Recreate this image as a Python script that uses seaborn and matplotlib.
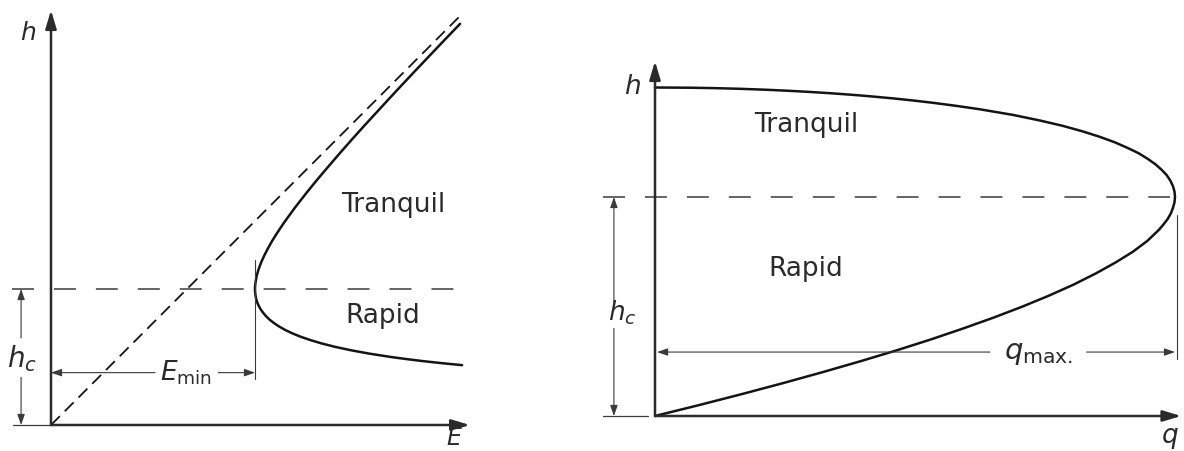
import matplotlib
matplotlib.use("Agg")
import matplotlib.pyplot as plt
import seaborn as sns
import pandas as pd

# ---- specific energy curve, E versus depth h (depth in units of h_c) ----
energy_upper = [1.500, 1.5001, 1.5006, 1.504, 1.513, 1.528, 1.547, 1.570, 1.596,
                1.624, 1.655, 1.688, 1.722, 1.795, 1.873, 1.954, 2.039, 2.125,
                2.213, 2.303, 2.395, 2.487, 2.580, 2.674, 2.769, 2.864, 2.960, 3.008]
depth_upper = [1.00, 1.01, 1.02, 1.05, 1.10, 1.15, 1.20, 1.25, 1.30,
               1.35, 1.40, 1.45, 1.50, 1.60, 1.70, 1.80, 1.90, 2.00,
               2.10, 2.20, 2.30, 2.40, 2.50, 2.60, 2.70, 2.80, 2.90, 2.95]
energy_lower = [1.5002, 1.5006, 1.504, 1.509, 1.517, 1.528, 1.542, 1.560, 1.581,
                1.607, 1.639, 1.676, 1.720, 1.772, 1.833, 1.905, 1.989, 2.087,
                2.203, 2.339, 2.500, 2.611, 2.733, 2.870, 3.023]
depth_lower = [0.99, 0.98, 0.95, 0.925, 0.90, 0.875, 0.85, 0.825, 0.80,
               0.775, 0.75, 0.725, 0.70, 0.675, 0.65, 0.625, 0.60, 0.575,
               0.55, 0.525, 0.50, 0.485, 0.47, 0.455, 0.44]
asymptote_E = [0.0, 3.03]
asymptote_h = [0.0, 3.03]
h_crit = 1.0
e_min = 1.5

# ---- discharge curve, q / q_max versus depth h at constant energy ----
discharge = [0.0, 0.085, 0.167, 0.246, 0.322, 0.395, 0.465, 0.531, 0.593, 0.652,
             0.707, 0.758, 0.805, 0.847, 0.885, 0.919, 0.947, 0.969, 0.978, 0.986,
             0.992, 0.996, 0.999, 1.000, 0.999, 0.996, 0.991, 0.984, 0.974, 0.962,
             0.947, 0.930, 0.908, 0.884, 0.855, 0.822, 0.784, 0.739, 0.688, 0.626,
             0.583, 0.535, 0.499, 0.459, 0.413, 0.388, 0.360, 0.330, 0.296, 0.257,
             0.211, 0.164, 0.116, 0.067, 0.0]
depth_q = [0.0, 0.05, 0.10, 0.15, 0.20, 0.25, 0.30, 0.35, 0.40, 0.45,
           0.50, 0.55, 0.60, 0.65, 0.70, 0.75, 0.80, 0.85, 0.875, 0.90,
           0.925, 0.95, 0.975, 1.00, 1.025, 1.05, 1.075, 1.10, 1.125, 1.15,
           1.175, 1.20, 1.225, 1.25, 1.275, 1.30, 1.325, 1.35, 1.375, 1.40,
           1.415, 1.43, 1.44, 1.45, 1.46, 1.465, 1.47, 1.475, 1.48, 1.485,
           1.49, 1.494, 1.497, 1.499, 1.50]
q_max = 1.0

W, H, DPI = 1184, 451, 100
sns.set_theme(style="white")
plt.rcParams["mathtext.fontset"] = "dejavusans"
plt.rcParams["font.family"] = ["DejaVu Sans"]
plt.rcParams["lines.scale_dashes"] = False

INK = "#141414"
AXC = "#2b2b2b"
DIM = "#3a3a3a"
TXT = "#2a2a2a"

fig = plt.figure(figsize=(W / DPI, H / DPI), dpi=DPI, facecolor="white")


def panel(ox, oy, sx, sy, xlim, ylim):
    """Axes whose data origin sits at pixel (ox, oy) with sx, sy px per unit."""
    l = ox + xlim[0] * sx
    r = ox + xlim[1] * sx
    t = oy - ylim[1] * sy
    b = oy - ylim[0] * sy
    ax = fig.add_axes([l / W, (H - b) / H, (r - l) / W, (b - t) / H])
    ax.set_xlim(*xlim)
    ax.set_ylim(*ylim)
    ax.set_axis_off()
    return ax


def arrow(ax, start, tip, lw=0.8, color=DIM, scale=8, hl=0.8, hw=0.28):
    ax.annotate("", xy=tip, xytext=start,
                arrowprops=dict(arrowstyle=f"-|>,head_length={hl},head_width={hw}",
                                lw=lw, color=color, shrinkA=0, shrinkB=0,
                                mutation_scale=scale),
                annotation_clip=False)


def axis_arrow(ax, start, tip):
    arrow(ax, start, tip, lw=1.8, color=AXC, scale=11, hl=1.0, hw=0.3)


# ================= left panel: specific energy =================
axL = panel(51, 425, 136, 136, (-0.36, 3.2), (-0.19, 3.1))

curve_L = pd.DataFrame({
    "E": energy_lower[::-1] + energy_upper,
    "h": depth_lower[::-1] + depth_upper,
})
sns.lineplot(data=curve_L, x="E", y="h", sort=False, estimator=None,
             color=INK, lw=1.8, ax=axL)
sns.lineplot(x=asymptote_E, y=asymptote_h, sort=False, estimator=None,
             color=INK, lw=1.3, dashes=False, ax=axL,
             linestyle=(0, (9.0, 5.0)))
axL.plot([-0.29, 3.03], [h_crit, h_crit], color=DIM, lw=1.1,
         linestyle=(0, (15.8, 14.4)), clip_on=False)

axis_arrow(axL, (0, 0), (0, 3.05))
axis_arrow(axL, (0, 0), (3.08, 0))
axL.plot([-0.28, 0], [0, 0], color=DIM, lw=0.9, clip_on=False)

# h_c dimension
arrow(axL, (-0.22, 0.64), (-0.22, h_crit))
arrow(axL, (-0.22, 0.35), (-0.22, 0.0))
axL.text(-0.21, 0.49, "$h_c$", fontsize=20, color=TXT, ha="center", va="center")

# E_min dimension
arrow(axL, (0.765, 0.385), (0.0, 0.385))
arrow(axL, (1.23, 0.385), (e_min, 0.385))
axL.plot([e_min, e_min], [0.34, 1.21], color=DIM, lw=0.8)
axL.text(0.995, 0.33, r"$E_{\mathrm{min}}$", fontsize=19, color=TXT,
         ha="center", va="baseline")

axL.text(-0.17, 2.88, "$h$", fontsize=18, color=TXT, ha="center", va="center")
axL.text(2.97, -0.095, "$E$", fontsize=17, color=TXT, ha="center", va="center",
         clip_on=False)
axL.text(2.52, 1.62, "Tranquil", fontsize=19, color=TXT, ha="center", va="center")
axL.text(2.44, 0.80, "Rapid", fontsize=19, color=TXT, ha="center", va="center")

# ================= right panel: discharge =================
axR = panel(655, 416, 520, 219, (-0.12, 1.015), (-0.15, 1.85))

curve_R = pd.DataFrame({"q": discharge, "h": depth_q})
sns.lineplot(data=curve_R, x="q", y="h", sort=False, estimator=None,
             color=INK, lw=1.8, ax=axR)
axR.plot([-0.10, 0.99], [h_crit, h_crit], color=DIM, lw=1.1,
         linestyle=(0, (15.8, 14.4)), clip_on=False)

axis_arrow(axR, (0, 0), (0, 1.62))
axis_arrow(axR, (0, 0), (1.012, 0))
axR.plot([-0.10, -0.013], [0, 0], color=DIM, lw=0.9)

# h_c dimension
arrow(axR, (-0.079, 0.516), (-0.079, h_crit))
arrow(axR, (-0.079, 0.40), (-0.079, 0.0))
axR.text(-0.062, 0.47, "$h_c$", fontsize=19, color=TXT, ha="center", va="center")

# q_max dimension
arrow(axR, (0.644, 0.292), (0.004, 0.292))
arrow(axR, (0.83, 0.292), (q_max, 0.292))
axR.plot([q_max + 0.003, q_max + 0.003], [0.26, 0.92], color=DIM, lw=0.8)
axR.text(0.738, 0.262, r"$q_{\mathrm{max.}}$", fontsize=21, color=TXT,
         ha="center", va="baseline")

axR.text(-0.044, 1.50, "$h$", fontsize=19, color=TXT, ha="center", va="center")
axR.text(0.99, -0.10, "$q$", fontsize=19, color=TXT, ha="center", va="center")
axR.text(0.29, 1.33, "Tranquil", fontsize=19, color=TXT, ha="center", va="center")
axR.text(0.29, 0.67, "Rapid", fontsize=19, color=TXT, ha="center", va="center")

fig.savefig("out.png", dpi=DPI, facecolor="white")
